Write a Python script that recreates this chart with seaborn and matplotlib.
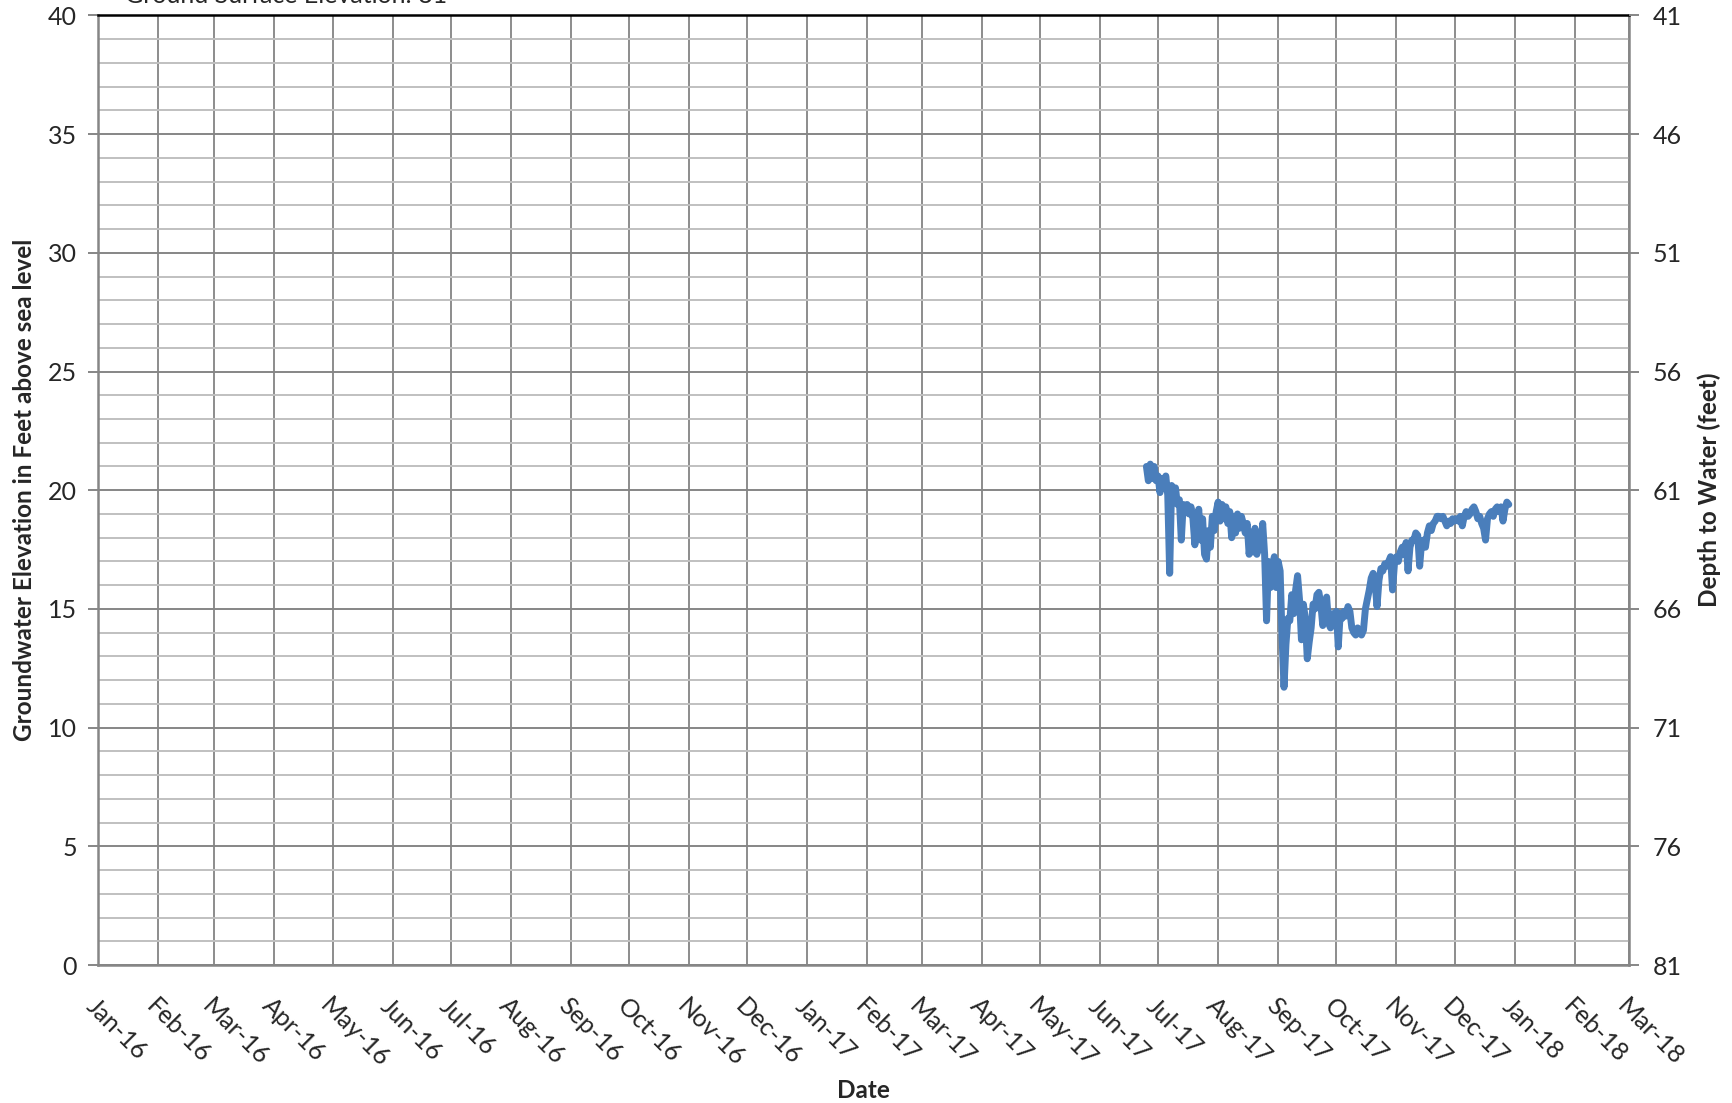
import matplotlib
matplotlib.use("Agg")
import matplotlib.pyplot as plt
import matplotlib.dates as mdates
from matplotlib.ticker import MultipleLocator
import seaborn as sns
import pandas as pd

# daily groundwater elevation (ft above sea level), starting 25 Jun 2017
start_date = "2017-06-25"
elevation = [
    21.0, 20.4, 21.1, 20.5, 21.0, 20.4,                      # Jun 25-30
    20.6, 19.9, 20.5, 20.2, 20.6, 19.8, 16.5, 20.2, 19.6, 20.1,
    19.4, 19.6, 17.9, 19.4, 19.2, 19.4, 19.0, 19.3, 18.8, 17.7,
    18.5, 19.2, 17.9, 18.8, 17.3, 17.1, 18.3, 17.6, 18.9, 18.3, 19.1,  # Jul
    19.5, 18.7, 19.4, 18.8, 19.3, 18.6, 19.1, 18.0, 18.9, 18.2,
    19.0, 18.4, 18.9, 18.6, 18.2, 18.6, 17.3, 18.1, 17.4, 18.4,
    17.3, 18.0, 17.5, 18.6, 17.3, 14.5, 17.0, 15.9, 16.6, 17.2, 15.9,  # Aug
    17.0, 16.6, 13.8, 11.7, 13.5, 14.6, 14.5, 15.6, 14.8, 15.8,
    16.4, 15.4, 13.7, 15.2, 14.6, 12.9, 13.6, 14.2, 15.2, 15.0,
    15.6, 15.7, 15.2, 14.3, 14.9, 15.5, 14.4, 14.2, 14.8, 14.6,        # Sep
    14.9, 13.4, 14.8, 14.6, 14.9, 14.7, 15.1, 14.9, 14.2, 14.0,
    13.9, 14.2, 14.0, 13.9, 14.1, 15.0, 15.4, 15.8, 16.3, 16.5,
    16.1, 15.1, 16.2, 16.7, 16.6, 16.9, 16.8, 17.0, 17.2, 15.8, 16.9,  # Oct
    17.2, 17.0, 17.4, 17.6, 17.3, 17.8, 16.6, 17.6, 17.9, 17.9,
    18.2, 18.1, 16.8, 17.8, 17.9, 17.6, 18.2, 18.5, 18.3, 18.6,
    18.7, 18.9, 18.9, 18.8, 18.9, 18.7, 18.5, 18.7, 18.6, 18.8,        # Nov
    18.7, 18.8, 18.7, 18.9, 18.5, 18.9, 19.1, 18.9, 19.0, 19.2,
    19.3, 19.1, 18.8, 18.9, 18.6, 18.4, 17.9, 18.8, 19.0, 19.1,
    18.9, 19.2, 19.3, 19.1, 19.3, 18.7, 19.2, 19.5, 19.4,              # Dec 1-29
]
ground_surface = 81
depth_ticks = [41, 46, 51, 56, 61, 66, 71, 76, 81]

df = pd.DataFrame({
    "Date": pd.date_range(start_date, periods=len(elevation), freq="D"),
    "Elevation": elevation,
})

sns.set_style("white")
plt.rcParams["font.family"] = ["Lato", "DejaVu Sans"]

fig = plt.figure(figsize=(17.32, 11.03), dpi=100)
ax = fig.add_axes([0.0566, 0.1251, 0.8839, 0.8609])

sns.lineplot(data=df, x="Date", y="Elevation", ax=ax,
             color="#4a7ebb", linewidth=5, solid_joinstyle="round")

ax.set_xlim(pd.Timestamp("2016-01-01"), pd.Timestamp("2018-03-01"))
ax.set_ylim(0, 40)
ax.yaxis.set_major_locator(MultipleLocator(5))
ax.yaxis.set_minor_locator(MultipleLocator(1))
ax.xaxis.set_major_locator(mdates.MonthLocator())
ax.xaxis.set_major_formatter(mdates.DateFormatter("%b-%y"))

ax.grid(which="major", axis="y", color="#868686", linewidth=1.4)
ax.grid(which="minor", axis="y", color="#c0c0c0", linewidth=1.4)
ax.grid(which="major", axis="x", color="#8c8c8c", linewidth=1.4)
ax.set_axisbelow(True)

for side in ["left", "bottom", "right"]:
    ax.spines[side].set_color("#868686")
    ax.spines[side].set_linewidth(1.8)
ax.spines["top"].set_color("black")
ax.spines["top"].set_linewidth(1.8)

ax.tick_params(axis="y", which="major", direction="out", length=7,
               color="#868686", width=1.4, labelsize=18, pad=8)
ax.tick_params(axis="y", which="minor", length=0)
ax.tick_params(axis="x", direction="out", length=7, color="#868686",
               width=1.4, labelsize=18, pad=14)
for lab in ax.get_xticklabels():
    lab.set_rotation(-45)
    lab.set_ha("left")
    lab.set_va("top")
    lab.set_rotation_mode("anchor")

ax.set_xlabel("Date", fontsize=17.5, fontweight="bold", labelpad=5)
ax.set_ylabel("Groundwater Elevation in Feet above sea level", fontsize=17.5,
              fontweight="bold", labelpad=9)

ax2 = ax.twinx()
ax2.set_ylim(ground_surface, ground_surface - 40)
ax2.set_yticks(depth_ticks)
ax2.tick_params(axis="y", direction="out", length=7, color="#868686",
                width=1.4, labelsize=18, pad=10)
for s in ax2.spines.values():
    s.set_visible(False)
ax2.set_ylabel("Depth to Water (feet)", fontsize=17.5, fontweight="bold",
               labelpad=11)

fig.text(0.072, 1.004, f"Ground Surface Elevation: {ground_surface}",
         fontsize=18, va="center", ha="left")

fig.savefig("out.png", dpi=100)
